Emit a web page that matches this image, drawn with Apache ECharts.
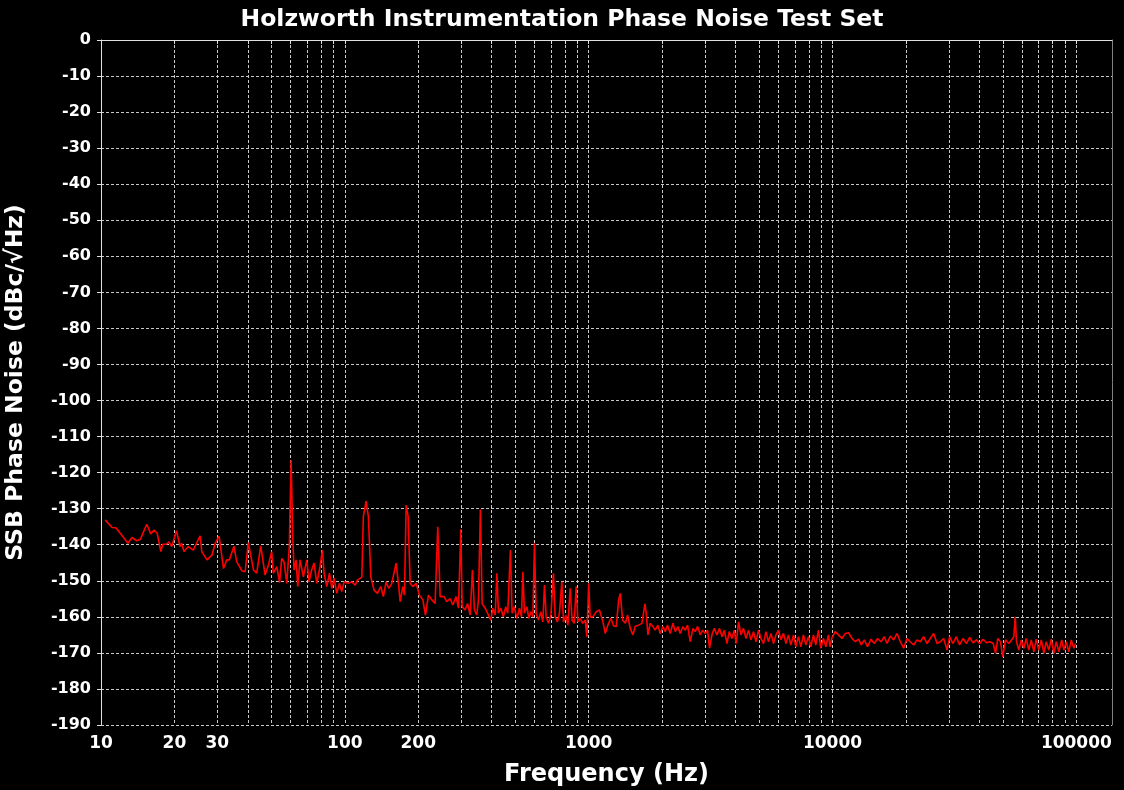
<!DOCTYPE html>
<html>
<head>
<meta charset="utf-8">
<script src="https://cdn.jsdelivr.net/npm/echarts@6/dist/echarts.min.js"></script>
<style>
html, body { margin: 0; padding: 0; background: #000; }
#chart { width: 1124px; height: 790px; }
</style>
</head>
<body>
<div id="chart"></div>
<script>
// 频率 (Hz) 与 SSB 相位噪声 (dBc/√Hz)
var freq = [
    10.4, 11.1, 11.5, 12.0, 12.9, 13.4, 14.0, 14.5, 15.4, 16.0, 16.5, 17.0, 17.6, 17.9, 18.6, 19.0, 19.5,
    20.4, 21.1, 21.4, 21.9, 22.8, 23.9, 25.5, 25.9, 27.2, 28.5, 29.4, 30.5, 31.8, 32.8, 33.6, 35.1, 36.0,
    37.8, 39.0, 40.2, 42.2, 43.5, 45.2, 47.1, 48.6, 50.1, 50.9, 52.6, 54.0, 55.1, 56.3, 57.8, 59.2, 60.2,
    61.2, 61.9, 63.1, 64.1, 65.5, 67.6, 69.8, 71.3, 73.1, 74.8, 76.7, 79.1, 80.9, 82.2, 84.3, 86.5, 88.4,
    90.3, 92.7, 95.0, 97.1, 99.3, 103.4, 106.8, 110.2, 112.6, 117.4, 119.1, 122.2, 124.9, 127.8, 131.8,
    136.0, 140.4, 143.9, 147.6, 151.4, 155.8, 162.2, 165.9, 168.6, 172.9, 175.6, 178.4, 181.8, 185.3,
    190.0, 196.0, 202.3, 208.9, 214.1, 220.2, 227.4, 234.5, 240.5, 246.0, 255.3, 261.8, 270.2, 277.2,
    286.0, 292.4, 299.0, 302.7, 311.3, 318.5, 326.6, 333.6, 340.1, 347.6, 353.1, 359.7, 365.6, 376.3,
    388.2, 397.0, 404.5, 413.6, 420.3, 426.6, 436.5, 446.7, 457.1, 465.6, 477.5, 485.3, 494.4, 507.8,
    520.0, 530.1, 537.0, 545.3, 557.9, 568.5, 579.4, 590.2, 599.4, 609.0, 622.3, 636.8, 648.6, 658.7,
    669.3, 684.0, 699.8, 717.0, 728.7, 744.7, 758.6, 776.2, 788.0, 806.0, 821.6, 839.5, 855.1, 872.0,
    888.7, 903.0, 922.8, 946.2, 967.4, 983.0, 1000, 1014, 1040, 1073, 1107, 1144, 1169, 1206, 1233, 1264,
    1297, 1327, 1348, 1377, 1413, 1444, 1480, 1518, 1551, 1601, 1653, 1701, 1722, 1750, 1788, 1834, 1874,
    1922, 1965, 2016, 2060, 2105, 2160, 2216, 2265, 2323, 2373, 2435, 2489, 2543, 2609, 2677, 2735, 2796,
    2868, 2931, 3006, 3072, 3131, 3202, 3273, 3357, 3440, 3521, 3597, 3690, 3771, 3868, 3954, 4027, 4120,
    4212, 4315, 4415, 4524, 4628, 4742, 4853, 4974, 5087, 5212, 5333, 5464, 5590, 5728, 5861, 6004, 6140,
    6295, 6442, 6597, 6745, 6918, 7072, 7250, 7413, 7599, 7772, 7966, 8147, 8351, 8540, 8750, 8950, 9178,
    9389, 9620, 9770, 9930, 10260, 10590, 10930, 11280, 11640, 12020, 12400, 12790, 13120, 13500, 13920,
    14380, 14840, 15310, 15810, 16320, 16730, 17260, 17810, 18390, 18970, 19580, 20210, 20840, 21510,
    22220, 22910, 23640, 24410, 25180, 25990, 26830, 27670, 28560, 29490, 30200, 31190, 32190, 33210,
    34300, 35400, 36520, 37710, 38900, 40160, 41470, 42790, 44160, 45600, 46600, 47610, 48840, 49900,
    51200, 52840, 54200, 55400, 56130, 56830, 58080, 59430, 60900, 62290, 63830, 65310, 66940, 68470,
    70150, 71780, 73570, 75240, 77090, 78880, 80880, 82730, 84750, 87100, 88870, 90900, 93100, 95300,
    97650, 99200
]
var noise = [
    -133.1, -135.2, -135.3, -136.8, -139.6, -138.0, -138.9, -138.5, -134.3, -137.0, -135.9, -136.8, -141.9, -139.9, -139.8, -139.2, -140.5,
    -136.1, -140.5, -139.6, -141.9, -140.5, -141.5, -137.5, -141.9, -144.2, -142.9, -139.6, -137.6, -146.6, -144.2, -144.2, -140.4, -144.7,
    -147.2, -147.5, -139.4, -147.0, -147.9, -140.3, -148.4, -145.6, -141.9, -147.9, -146.1, -150.5, -143.8, -144.7, -150.7, -140.5, -116.5,
    -138.7, -147.0, -144.2, -151.6, -144.2, -148.9, -144.2, -150.3, -147.0, -145.1, -150.7, -146.1, -141.5, -147.9, -151.6, -147.9, -152.1,
    -149.3, -153.5, -150.7, -153.0, -150.3, -150.7, -150.3, -151.2, -149.8, -149.0, -132.2, -127.9, -132.2, -148.9, -152.6,
    -153.5, -151.6, -154.4, -150.3, -152.1, -150.7, -145.1, -150.7, -155.8, -151.6, -154.0, -129.0, -132.2, -150.7,
    -151.6, -150.7, -154.0, -155.3, -159.5, -154.0, -155.3, -156.3, -135.0, -154.4, -154.4, -155.8, -154.9, -156.7,
    -154.4, -157.6, -135.7, -157.2, -158.1, -156.3, -159.5, -147.0, -158.1, -159.5, -155.3, -130.2, -156.3, -157.6,
    -159.5, -160.9, -157.6, -159.5, -147.9, -159.0, -157.6, -160.0, -157.2, -159.0, -141.5, -159.0, -157.2, -160.4,
    -157.6, -160.0, -147.5, -159.0, -157.2, -160.4, -158.6, -160.0, -139.6, -159.0, -160.9, -158.6, -161.4, -151.2,
    -160.0, -161.8, -159.5, -147.9, -160.0, -161.4, -159.0, -150.3, -161.4, -159.5, -162.3, -152.1, -160.9, -161.8,
    -151.6, -161.4, -160.4, -161.8, -160.9, -165.5, -150.7, -160.0, -160.0, -158.6, -158.1, -161.4, -164.6, -161.8, -160.4, -162.5,
    -162.7, -155.3, -153.5, -160.9, -161.8, -159.5, -163.2, -165.0, -162.7, -162.3, -161.8, -156.4, -159.0, -165.0, -161.8, -162.7, -163.7,
    -162.3, -164.6, -162.7, -164.1, -162.3, -164.6, -161.8, -164.1, -162.7, -164.6, -162.7, -163.7, -162.3, -166.9, -163.2, -164.1, -162.7,
    -165.0, -163.7, -164.6, -163.7, -168.7, -165.0, -163.2, -165.0, -163.2, -165.5, -163.7, -167.4, -164.1, -166.0, -163.7, -167.4, -161.4,
    -165.0, -163.2, -166.0, -163.7, -166.4, -164.1, -166.9, -163.7, -166.0, -167.4, -164.1, -166.9, -164.6, -167.4, -165.0, -163.7, -166.4,
    -164.6, -167.4, -165.0, -167.8, -165.0, -168.3, -165.5, -168.3, -165.0, -167.8, -165.5, -168.3, -165.0, -167.8, -163.7, -168.7, -166.0,
    -168.3, -165.0, -168.3, -166.0, -164.1, -165.0, -166.0, -164.6, -164.4, -166.0, -166.9, -166.2, -167.8, -166.4, -168.3,
    -166.2, -167.4, -166.0, -166.9, -165.5, -167.4, -165.3, -166.4, -164.6, -166.9, -168.7, -166.0, -166.9, -167.8,
    -166.4, -166.9, -165.5, -167.4, -166.0, -164.6, -167.4, -166.9, -166.0, -169.2, -165.5, -167.4, -165.5, -167.8,
    -166.0, -167.4, -165.7, -167.2, -166.4, -167.4, -166.2, -167.2, -166.9, -167.4, -170.1, -166.0, -166.9, -171.1,
    -166.4, -167.4, -166.4, -165.5, -160.0, -166.9, -169.2, -166.4, -168.7, -166.0, -169.2, -166.4, -169.7, -166.2,
    -169.2, -166.4, -170.1, -166.9, -169.2, -166.2, -170.1, -166.9, -169.7, -166.4, -169.2, -166.9, -169.7, -166.4,
    -168.7, -167.4
]

// 坐标轴刻度
var xLabelValues = [10, 20, 30, 100, 200, 1000, 10000, 100000]
var xGridValues = [
    10, 20, 30, 40, 50, 60, 70, 80, 90,
    100, 200, 300, 400, 500, 600, 700, 800, 900,
    1000, 2000, 3000, 4000, 5000, 6000, 7000, 8000, 9000,
    10000, 20000, 30000, 40000, 50000, 60000, 70000, 80000, 90000,
    100000
]
var yMin = -190, yMax = 0, yStep = 10

var seriesData = freq.map(function (f, i) { return [f, noise[i]] })

var fontFamily = '"DejaVu Sans", Verdana, sans-serif'
var gridColor = '#c8c8c8'

var chart = echarts.init(document.getElementById('chart'))

var option = {
    backgroundColor: '#000',
    animation: false,
    title: {
        text: 'Holzworth Instrumentation Phase Noise Test Set',
        left: 'center',
        top: 3,
        textStyle: { color: '#fff', fontSize: 23.5, fontWeight: 'bold', fontFamily: fontFamily }
    },
    grid: { left: 101, right: 12, top: 40, bottom: 65, outerBoundsMode: 'none' },
    xAxis: {
        type: 'log',
        logBase: 10,
        min: 10,
        max: 140000,
        name: 'Frequency (Hz)',
        nameLocation: 'middle',
        nameGap: 38,
        nameTextStyle: { color: '#fff', fontSize: 24, fontWeight: 'bold', fontFamily: fontFamily },
        axisLine: { lineStyle: { color: '#e0e0e0', width: 1 } },
        axisTick: { show: true, length: 4, customValues: xGridValues, lineStyle: { color: '#e0e0e0' } },
        axisLabel: {
            customValues: xLabelValues,
            color: '#fff', fontSize: 17, fontWeight: 'bold', fontFamily: fontFamily, margin: 10,
            formatter: function (v) { return String(v) }
        },
        splitLine: { show: true, lineStyle: { color: gridColor, type: [3, 2], width: 1 } }
    },
    yAxis: [{
        type: 'value',
        min: yMin,
        max: yMax,
        interval: yStep,
        name: 'SSB Phase Noise (dBc/\u221AHz)',
        nameLocation: 'middle',
        nameGap: 73,
        nameTextStyle: { color: '#fff', fontSize: 23.5, fontWeight: 'bold', fontFamily: fontFamily },
        axisLine: { show: true, lineStyle: { color: '#e0e0e0', width: 1 } },
        axisTick: { show: true, length: 4, lineStyle: { color: '#e0e0e0' } },
        axisLabel: { color: '#fff', fontSize: 16, fontWeight: 'bold', fontFamily: fontFamily, margin: 10 },
        splitLine: { show: true, lineStyle: { color: gridColor, type: [3, 2], width: 1 } }
    }, {
        // 右边框
        type: 'value',
        position: 'right',
        min: yMin,
        max: yMax,
        axisLine: { show: true, lineStyle: { color: '#808080', width: 1 } },
        axisTick: { show: false },
        axisLabel: { show: false },
        splitLine: { show: false }
    }],
    series: [{
        type: 'line',
        data: seriesData,
        showSymbol: false,
        symbol: 'none',
        lineStyle: { color: '#ff0000', width: 1.6 },
        z: 5
    }]
}
chart.setOption(option)
</script>
</body>
</html>
